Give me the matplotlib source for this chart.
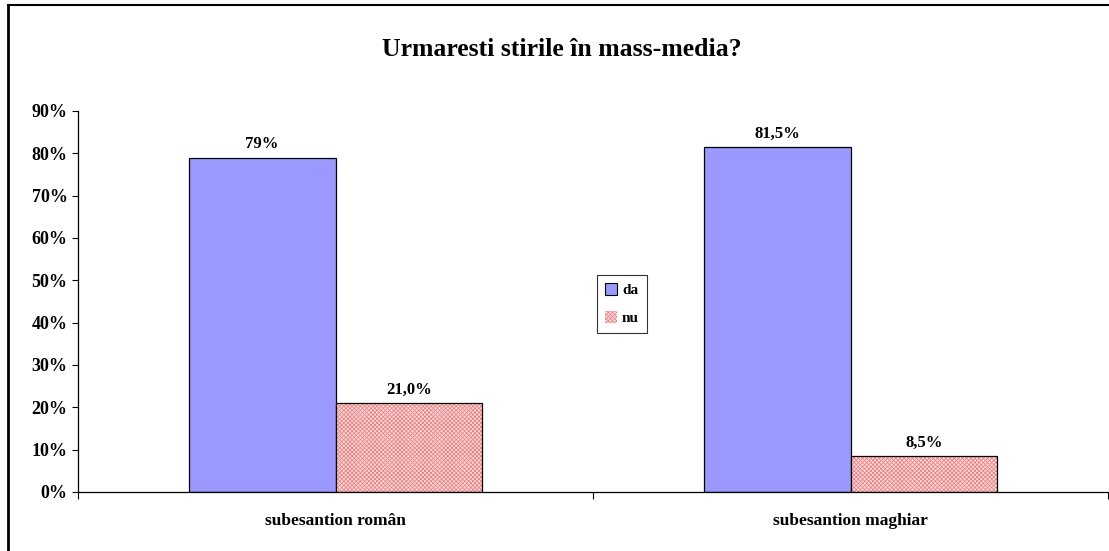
import matplotlib.pyplot as plt
import matplotlib.ticker as mticker
from matplotlib.lines import Line2D
from matplotlib.patches import Patch

categories = ["subesantion român", "subesantion maghiar"]
series = ["da", "nu"]
da_vals = [0.79, 0.815]
nu_vals = [0.21, 0.085]
da_labels = ["79%", "81,5%"]
nu_labels = ["21,0%", "8,5%"]

plt.rcParams['font.family'] = ['Liberation Serif', 'DejaVu Serif']
plt.rcParams['font.weight'] = 'bold'
plt.rcParams['hatch.linewidth'] = 0.6

fig = plt.figure(figsize=(11.09, 5.51), dpi=100)
ax = fig.add_axes([78/1109, 59/551, 1030/1109, 381/551])

# outer chart frame (clipped on right and bottom in the original)
fig.add_artist(Line2D([8/1109, 8/1109], [-0.01, 1-5/551], color='black', lw=2))
fig.add_artist(Line2D([8/1109, 1.01], [1-5/551, 1-5/551], color='black', lw=1.5))

x = list(range(len(categories)))
w = 0.285
xd = [i - w/2 for i in x]
xn = [i + w/2 for i in x]

bd = ax.bar(xd, da_vals, w, color='#9999FF', edgecolor='black', lw=0.9, label='da')
# patterned pink bars: hatch layer, then outline
ax.bar(xn, nu_vals, w, color='#FFE0E0', edgecolor='#F08080', hatch='xxxxxxxx', lw=0)
bn = ax.bar(xn, nu_vals, w, fill=False, edgecolor='black', lw=0.9)

for b, t in zip(bd, da_labels):
    ax.annotate(t, (b.get_x() + b.get_width()/2, b.get_height()), xytext=(0, 4),
                textcoords='offset points', ha='center', va='bottom', fontsize=12, fontweight='bold')
for b, t in zip(bn, nu_labels):
    ax.annotate(t, (b.get_x() + b.get_width()/2, b.get_height()), xytext=(0, 4),
                textcoords='offset points', ha='center', va='bottom', fontsize=12, fontweight='bold')

ax.set_xlim(-0.5, 1.5)
ax.set_ylim(0, 0.9)
ax.yaxis.set_major_locator(mticker.MultipleLocator(0.1))
ax.yaxis.set_major_formatter(mticker.FuncFormatter(lambda v, p: f"{round(v*100)}%"))
ax.tick_params(axis='y', labelsize=13, length=4, width=0.8, direction='out')

ax.set_xticks([-0.5, 0.5, 1.5])
ax.set_xticklabels([])
ax.set_xticks(x, minor=True)
ax.set_xticklabels(categories, minor=True, fontsize=12.5, fontweight='bold')
ax.tick_params(axis='x', which='major', length=5, width=0.8, direction='out')
ax.tick_params(axis='x', which='minor', length=0, pad=15)

for s in ['top', 'right']:
    ax.spines[s].set_visible(False)
for s in ['left', 'bottom']:
    ax.spines[s].set_linewidth(0.9)

handles = [Patch(facecolor='#9999FF', edgecolor='black', lw=0.8),
           Patch(facecolor='#FFE0E0', edgecolor='#F08080', hatch='xxxxxxxx', lw=0)]
leg = fig.legend(handles, series, loc='center', bbox_to_anchor=(622/1109, 1-304/551),
                 fontsize=11, frameon=True, fancybox=False, edgecolor='black',
                 handlelength=0.8, handleheight=0.8, handletextpad=0.3,
                 borderpad=0.5, labelspacing=0.9)
leg.get_frame().set_linewidth(0.8)

fig.text(562/1109, 1-50/551, "Urmaresti stirile în mass-media?", ha='center', va='center',
         fontsize=18.5, fontweight='bold')

fig.savefig('out.png', dpi=100)
